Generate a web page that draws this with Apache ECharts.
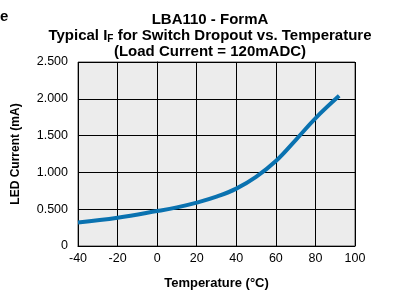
<!DOCTYPE html>
<html>
<head>
<meta charset="utf-8">
<script src="https://cdn.jsdelivr.net/npm/echarts@6/dist/echarts.min.js"></script>
<style>
  html, body { margin: 0; padding: 0; background: #fff; }
  #chart { width: 393px; height: 291px; }
</style>
</head>
<body>
<div id="chart"></div>
<script>
// data
const temperature = [-40, -20, 0, 10, 20, 30, 40, 50, 60, 70, 80, 92];
const ledCurrent = [0.32, 0.385, 0.475, 0.525, 0.59, 0.67, 0.78, 0.94, 1.155, 1.44, 1.735, 2.04];
const xTicks = [-40, 100, 20];   // min, max, interval
const yTicks = [0, 2.5, 0.5];

const font = 'Liberation Sans, Arial, sans-serif';

const chart = echarts.init(document.getElementById('chart'));

const option = {
  animation: false,
  title: {
    text: 'LBA110 - FormA\nTypical I{sub|F} for Switch Dropout vs. Temperature\n(Load Current = 120mADC)',
    left: 205,
    top: 7,
    textAlign: 'center',
    textStyle: {
      fontFamily: font,
      fontSize: 15,
      fontWeight: 'bold',
      color: '#000',
      lineHeight: 16,
      rich: {
        sub: {
          fontFamily: font,
          fontSize: 10,
          fontWeight: 'bold',
          color: '#000',
          padding: [7, 0, 0, 0],
          lineHeight: 16
        }
      }
    }
  },
  graphic: [{
    type: 'text',
    left: 0,
    top: 9,
    style: { text: 'e', fontFamily: font, fontSize: 15, fontWeight: 'bold', fill: '#000' }
  }],
  grid: {
    left: 78, right: 38, top: 62, bottom: 45,
    outerBoundsMode: 'none',
    show: true, backgroundColor: '#ececec', borderColor: '#555', borderWidth: 1
  },
  xAxis: {
    type: 'value',
    min: xTicks[0],
    max: xTicks[1],
    interval: xTicks[2],
    name: 'Temperature (°C)',
    nameLocation: 'middle',
    nameGap: 31,
    nameTextStyle: { fontFamily: font, fontSize: 13, fontWeight: 'bold', color: '#000' },
    axisLine: { show: true, lineStyle: { color: '#000', width: 1 } },
    axisTick: { show: false },
    axisLabel: { fontFamily: font, fontSize: 12.5, color: '#000', margin: 6 },
    splitLine: { show: true, lineStyle: { color: '#000', width: 1 } }
  },
  yAxis: {
    type: 'value',
    min: yTicks[0],
    max: yTicks[1],
    interval: yTicks[2],
    name: 'LED Current (mA)',
    nameLocation: 'middle',
    nameGap: 56,
    nameTextStyle: { fontFamily: font, fontSize: 12, fontWeight: 'bold', color: '#000' },
    axisLine: { show: true, lineStyle: { color: '#000', width: 1 } },
    axisTick: { show: false },
    axisLabel: {
      fontFamily: font, fontSize: 12.5, color: '#000', margin: 10,
      formatter: v => v === 0 ? '0' : v.toFixed(3)
    },
    splitLine: { show: true, lineStyle: { color: '#000', width: 1 } }
  },
  series: [{
    type: 'line',
    data: temperature.map((t, i) => [t, ledCurrent[i]]),
    smooth: 0.4,
    showSymbol: false,
    lineStyle: { color: '#0a72b0', width: 4 }
  }]
};

chart.setOption(option);
</script>
</body>
</html>
